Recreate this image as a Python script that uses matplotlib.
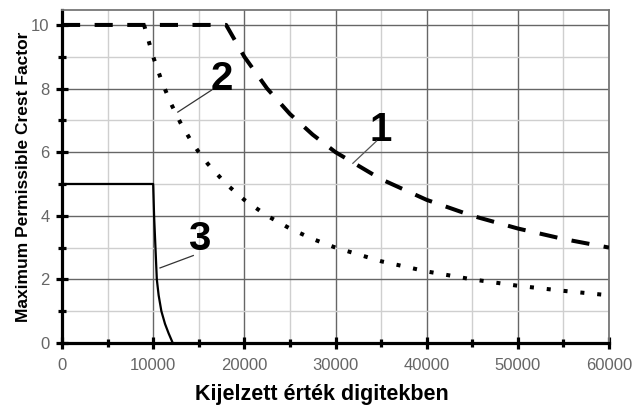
import matplotlib.pyplot as plt
import numpy as np

plt.rcParams['font.family'] = ['Liberation Sans', 'DejaVu Sans']

# curve 1 (dashed)
x1 = [0, 18000, 20000, 22500, 25000, 27500, 30000, 35000, 40000, 45000, 50000, 55000, 60000]
y1 = [10, 10, 9.0, 8.0, 7.2, 6.55, 6.0, 5.15, 4.5, 4.0, 3.6, 3.27, 3.0]
# curve 2 (dotted)
x2 = [9000, 10000, 11000, 12000, 13000, 14000, 15000, 16000, 18000, 20000, 22500,
      25000, 27500, 30000, 35000, 40000, 45000, 50000, 55000, 60000]
y2 = [10, 9.0, 8.18, 7.5, 6.92, 6.43, 6.0, 5.63, 5.0, 4.5, 4.0,
      3.6, 3.27, 3.0, 2.57, 2.25, 2.0, 1.8, 1.64, 1.5]
# curve 3 (solid)
x3 = [0, 10000, 10100, 10250, 10400, 10600, 10900, 11300, 11700, 12150]
y3 = [5, 5, 4.0, 3.0, 2.0, 1.5, 1.0, 0.6, 0.3, 0.0]

xticks = [0, 10000, 20000, 30000, 40000, 50000, 60000]
yticks = [0, 2, 4, 6, 8, 10]

fig = plt.figure(figsize=(6.34, 4.08), dpi=100)
ax = fig.add_axes([0.0978, 0.1593, 0.8628, 0.8162])

ax.set_xlim(0, 60000)
ax.set_ylim(0, 10.47)

ax.set_xticks(xticks)
ax.set_xticks(np.arange(0, 60001, 5000), minor=True)
ax.set_yticks(yticks)
ax.set_yticks(np.arange(0, 11, 1), minor=True)

ax.grid(which='major', color='#666666', lw=1.0, zorder=0)
ax.grid(which='minor', color='#cfcfcf', lw=1.0, zorder=0)
ax.set_axisbelow(True)

ax.plot(x1, y1, color='black', lw=2.9, dashes=(4.5, 3.6), solid_capstyle='butt',
        dash_capstyle='butt', zorder=3)
ax.plot(x2, y2, color='black', lw=2.9, dashes=(1, 3.2), dash_capstyle='butt', zorder=3)
ax.plot(x3, y3, color='black', lw=1.6, zorder=3)

# number labels with leader lines
lab_kw = dict(fontsize=29, fontweight='bold', ha='center', va='center', zorder=4)
ax.text(35000, 6.7, '1', **lab_kw)
ax.plot([31900, 34500], [5.65, 6.35], color='#555555', lw=0.9, zorder=4)
ax.text(17500, 8.3, '2', **lab_kw)
ax.plot([12700, 16400], [7.26, 7.95], color='#333333', lw=0.9, zorder=4)
ax.text(15100, 3.27, '3', **lab_kw)
ax.plot([10750, 14400], [2.36, 2.75], color='#333333', lw=0.9, zorder=4)

for s in ['left', 'bottom']:
    ax.spines[s].set_color('black')
    ax.spines[s].set_linewidth(2.3)
for s in ['top', 'right']:
    ax.spines[s].set_color('#777777')
    ax.spines[s].set_linewidth(1.3)

ax.tick_params(which='both', direction='inout', color='black', width=2.3)
ax.tick_params(which='major', length=8)
ax.tick_params(which='minor', length=6)
ax.tick_params(axis='both', labelsize=12, labelcolor='#666666')
ax.tick_params(axis='x', pad=7)
ax.tick_params(axis='y', pad=5)

ax.set_xlabel('Kijelzett érték digitekben', fontsize=15.5, fontweight='bold', va='center')
ax.xaxis.set_label_coords(0.475, -0.156)
ax.set_ylabel('Maximum Permissible Crest Factor', fontsize=12.5, fontweight='bold', va='center')
ax.yaxis.set_label_coords(-0.071, 0.5)

fig.savefig('out.png', dpi=100)
